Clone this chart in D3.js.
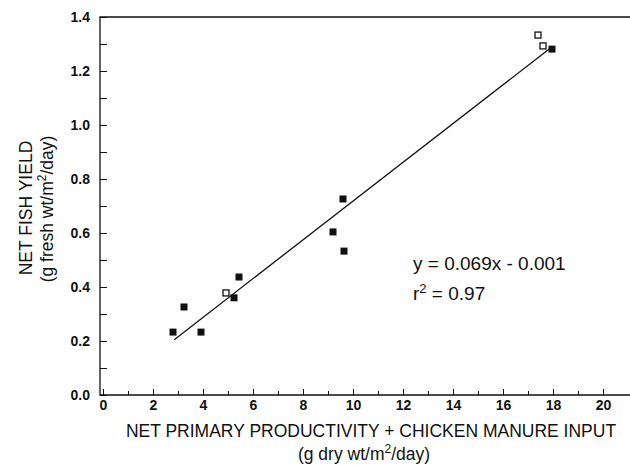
<!DOCTYPE html>
<html>
<head>
<meta charset="utf-8">
<script src="https://cdn.jsdelivr.net/npm/d3@7"></script>
<style>
	body { margin: 0; background: #fff; }
	svg { display: block; font-family: "Liberation Sans", Arial, sans-serif; }
	.tick text { font-size: 14px; font-weight: bold; fill: #111; }
	.axis path, .tick line { stroke: #111; }
</style>
</head>
<body>
<svg id="chart"></svg>
<script>
// ponds with manure only (filled squares)
const filledX = [2.8, 3.24, 3.92, 5.24, 5.44, 9.2, 9.6, 9.64, 17.96]
const filledY = [0.233, 0.326, 0.233, 0.36, 0.437, 0.604, 0.726, 0.533, 1.281]
// open squares
const openX = [4.92, 17.4, 17.6]
const openY = [0.378, 1.333, 1.293]
// fitted line ends as drawn
const fitX = [2.85, 17.9]
const fitY = [0.205, 1.285]

const xMajor = [0, 2, 4, 6, 8, 10, 12, 14, 16, 18, 20]
const xMinor = [1, 3, 5, 7, 9, 11, 13, 15, 17, 19]
const yMajor = [0, 0.2, 0.4, 0.6, 0.8, 1.0, 1.2, 1.4]
const yMinor = [0.1, 0.3, 0.5, 0.7, 0.9, 1.1, 1.3]

const width = 630
const height = 465

const svg = d3.select("#chart")
	.attr("width", width)
	.attr("height", height)

const x = d3.scaleLinear().domain([0, 20]).range([103, 603])
const y = d3.scaleLinear().domain([0, 1.4]).range([395, 17])

// frame: left, top, bottom
svg.append("path")
	.attr("fill", "none")
	.attr("stroke", "#111")
	.attr("stroke-width", 1.3)
	.attr("d", "M" + width + "," + y(1.4) + "H" + 100 + "V" + y(0) + "H" + width)

// x axis
svg.append("g")
	.attr("class", "axis")
	.attr("transform", "translate(0," + y(0) + ")")
	.call(d3.axisBottom(x).tickValues(xMajor).tickSize(-6).tickPadding(5).tickFormat(d3.format("d")))
	.call(g => g.select(".domain").remove())
svg.append("g")
	.attr("class", "axis")
	.attr("transform", "translate(0," + y(0) + ")")
	.call(d3.axisBottom(x).tickValues(xMinor).tickSize(-4).tickFormat(""))
	.call(g => g.select(".domain").remove())

// y axis (ticks inward)
svg.append("g")
	.attr("class", "axis")
	.attr("transform", "translate(100,0)")
	.call(d3.axisLeft(y).tickValues(yMajor).tickSize(-7).tickPadding(10).tickFormat(d3.format(".1f")))
	.call(g => g.select(".domain").remove())
svg.append("g")
	.attr("class", "axis")
	.attr("transform", "translate(100,0)")
	.call(d3.axisLeft(y).tickValues(yMinor).tickSize(-7).tickFormat(""))
	.call(g => g.select(".domain").remove())

// regression line
const line = d3.line()
	.x(d => x(d[0]))
	.y(d => y(d[1]))
svg.append("path")
	.datum(d3.zip(fitX, fitY))
	.attr("fill", "none")
	.attr("stroke", "#111")
	.attr("stroke-width", 1.3)
	.attr("d", line)

// points
const s = 7
svg.append("g").selectAll("rect")
	.data(d3.zip(filledX, filledY))
	.join("rect")
	.attr("x", d => x(d[0]) - s / 2)
	.attr("y", d => y(d[1]) - s / 2)
	.attr("width", s)
	.attr("height", s)
	.attr("fill", "#111")
svg.append("g").selectAll("rect")
	.data(d3.zip(openX, openY))
	.join("rect")
	.attr("x", d => x(d[0]) - s / 2 + 0.5)
	.attr("y", d => y(d[1]) - s / 2 + 0.5)
	.attr("width", s - 1)
	.attr("height", s - 1)
	.attr("fill", "#fff")
	.attr("stroke", "#111")
	.attr("stroke-width", 1.3)

// equation
const eq = svg.append("g").attr("font-size", 19).attr("fill", "#111")
eq.append("text").attr("x", 413).attr("y", 270).text("y = 0.069x - 0.001")
const r2 = eq.append("text").attr("x", 413).attr("y", 300)
r2.append("tspan").text("r")
r2.append("tspan").attr("dy", -7).attr("font-size", 13).text("2")
r2.append("tspan").attr("dy", 7).text(" = 0.97")

// axis titles
const xt = svg.append("g").attr("font-size", 17.5).attr("fill", "#111").attr("text-anchor", "middle")
xt.append("text").attr("x", 371).attr("y", 437).text("NET PRIMARY PRODUCTIVITY + CHICKEN MANURE INPUT")
const xt2 = xt.append("text").attr("x", 364).attr("y", 460)
xt2.append("tspan").text("(g dry wt/m")
xt2.append("tspan").attr("dy", -7).attr("font-size", 12).text("2")
xt2.append("tspan").attr("dy", 7).text("/day)")

const yt = svg.append("g").attr("font-size", 17.5).attr("fill", "#111").attr("text-anchor", "middle")
yt.append("text").attr("transform", "translate(32,208) rotate(-90)").text("NET FISH YIELD")
const yt2 = yt.append("text").attr("transform", "translate(53,209) rotate(-90)")
yt2.append("tspan").text("(g fresh wt/m")
yt2.append("tspan").attr("dy", -7).attr("font-size", 12).text("2")
yt2.append("tspan").attr("dy", 7).text("/day)")
</script>
</body>
</html>
